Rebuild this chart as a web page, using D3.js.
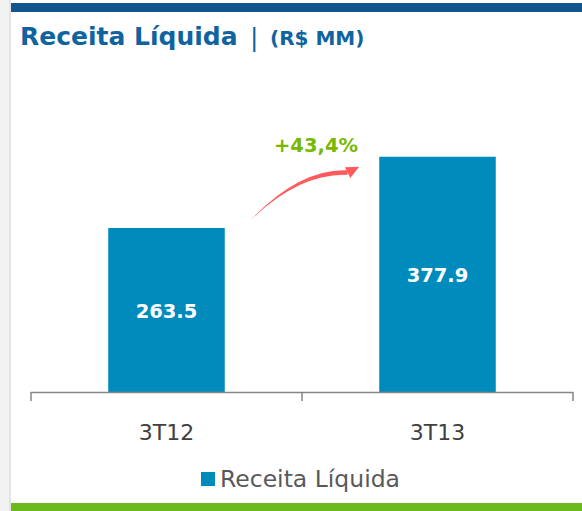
<!DOCTYPE html>
<html>
<head>
<meta charset="utf-8">
<script src="https://cdn.jsdelivr.net/npm/d3@7"></script>
<style>
  html, body { margin: 0; padding: 0; background: #ffffff; }
  svg { display: block; }
</style>
</head>
<body>
<div id="chart"></div>
<script>
(function() {
  // values
  var categories = ["3T12", "3T13"];
  var values = [263.5, 377.9];
  var seriesName = "Receita Líquida";
  var growthLabel = "+43,4%";
  var titleMain = "Receita Líquida";
  var titleUnit = "(R$ MM)";

  var W = 582, H = 511;
  var font = "'DejaVu Sans', sans-serif";

  var svg = d3.select("#chart")
    .append("svg")
      .attr("width", W)
      .attr("height", H);

  // page frame: grey side strip, blue top band, green bottom band
  svg.append("rect").attr("x", 0).attr("y", 0).attr("width", W).attr("height", H).attr("fill", "#ffffff");
  svg.append("rect").attr("x", 0).attr("y", 0).attr("width", 11).attr("height", H).attr("fill", "#f2f2f2");
  svg.append("rect").attr("x", 9).attr("y", 0).attr("width", 2).attr("height", H).attr("fill", "#e4e4e4");
  svg.append("rect").attr("x", 11).attr("y", 3).attr("width", W - 11).attr("height", 9).attr("fill", "#13568f");
  svg.append("rect").attr("x", 11).attr("y", 503).attr("width", W - 11).attr("height", 8).attr("fill", "#6cb91b");

  // title
  svg.append("text")
    .attr("x", 20).attr("y", 45)
    .attr("font-family", font).attr("font-weight", "bold").attr("font-size", 25)
    .attr("fill", "#0f64a0")
    .text(titleMain);
  svg.append("text")
    .attr("x", 250).attr("y", 46)
    .attr("font-family", font).attr("font-size", 25)
    .attr("fill", "#0f64a0")
    .text("|");
  svg.append("text")
    .attr("x", 270).attr("y", 45)
    .attr("font-family", font).attr("font-weight", "bold").attr("font-size", 20)
    .attr("fill", "#0f64a0")
    .text(titleUnit);

  // plot area
  var left = 31, right = 573, baseline = 392;
  var x = d3.scaleBand()
    .domain(categories)
    .range([left, right])
    .paddingInner(0.57)
    .paddingOuter(0.285);

  var y = d3.scaleLinear()
    .domain([0, 400])
    .range([baseline, baseline - 249]);

  // bars
  svg.selectAll("rect.bar")
    .data(values)
    .enter()
    .append("rect")
      .attr("class", "bar")
      .attr("x", function(d, i) { return x(categories[i]); })
      .attr("y", function(d) { return y(d); })
      .attr("width", x.bandwidth())
      .attr("height", function(d) { return y(0) - y(d); })
      .attr("fill", "#008bbd");

  // value labels inside bars
  svg.selectAll("text.val")
    .data(values)
    .enter()
    .append("text")
      .attr("class", "val")
      .attr("x", function(d, i) { return x(categories[i]) + x.bandwidth() / 2; })
      .attr("y", function(d) { return (y(d) + y(0)) / 2 + 1; })
      .attr("dy", "0.35em")
      .attr("text-anchor", "middle")
      .attr("font-family", font)
      .attr("font-weight", "bold")
      .attr("font-size", 19.5)
      .attr("fill", "#ffffff")
      .text(function(d) { return d.toFixed(1); });

  // category axis, ticks at the band edges
  var axisG = svg.append("g");
  axisG.append("line")
    .attr("x1", left).attr("x2", right)
    .attr("y1", baseline + 0.5).attr("y2", baseline + 0.5)
    .attr("stroke", "#868686").attr("stroke-width", 1.5);

  var edges = [left].concat(categories.map(function(c, i) { return left + x.step() * (i + 1); }));
  edges[edges.length - 1] = right;
  axisG.selectAll("line.tick")
    .data(edges)
    .enter()
    .append("line")
      .attr("class", "tick")
      .attr("x1", function(d) { return d; })
      .attr("x2", function(d) { return d; })
      .attr("y1", baseline)
      .attr("y2", baseline + 9)
      .attr("stroke", "#868686").attr("stroke-width", 1.5);

  axisG.selectAll("text.cat")
    .data(categories)
    .enter()
    .append("text")
      .attr("class", "cat")
      .attr("x", function(d) { return x(d) + x.bandwidth() / 2; })
      .attr("y", 440)
      .attr("text-anchor", "middle")
      .attr("font-family", font)
      .attr("font-size", 22)
      .attr("fill", "#404040")
      .text(function(d) { return d; });

  // growth arrow between the two bars
  var x0 = x(categories[0]) + x.bandwidth() + 25, y0 = y(values[0]) - 7;
  var x1 = x(categories[1]) - 20, y1 = y(values[1]) + 10;
  var cx = x0 + (x1 - x0) * 0.45, cy = y1 + 4;
  var headLen = 13;
  // tapered body drawn as a filled shape
  var bodyEnd = [x1 - headLen * 0.9, y1 + headLen * 0.45];
  var w = 2.3;
  var body = "M" + x0 + "," + y0 +
    " Q" + cx + "," + (cy - w) + " " + bodyEnd[0] + "," + (bodyEnd[1] - w) +
    " L" + bodyEnd[0] + "," + (bodyEnd[1] + w) +
    " Q" + cx + "," + (cy + w) + " " + x0 + "," + y0 + "Z";
  svg.append("path").attr("d", body).attr("fill", "#ff5a5a");
  var ang = Math.atan2(y1 - bodyEnd[1], x1 - bodyEnd[0]);
  var hw = 6;
  var px = -Math.sin(ang), py = Math.cos(ang);
  var bx = x1 - Math.cos(ang) * headLen, by = y1 - Math.sin(ang) * headLen;
  svg.append("path")
    .attr("d", "M" + x1 + "," + y1 +
      " L" + (bx + px * hw) + "," + (by + py * hw) +
      " L" + (bx - px * hw) + "," + (by - py * hw) + "Z")
    .attr("fill", "#ff5a5a");

  svg.append("text")
    .attr("x", 316)
    .attr("y", 152)
    .attr("text-anchor", "middle")
    .attr("font-family", font)
    .attr("font-weight", "bold")
    .attr("font-size", 19.5)
    .attr("fill", "#76b900")
    .text(growthLabel);

  // legend
  var lg = svg.append("g").attr("transform", "translate(201,472)");
  lg.append("rect").attr("width", 14).attr("height", 14).attr("fill", "#008bbd");
  lg.append("text")
    .attr("x", 19)
    .attr("y", 7)
    .attr("dy", "0.35em")
    .attr("font-family", font)
    .attr("font-size", 23.5)
    .attr("fill", "#595959")
    .text(seriesName);
})();
</script>
</body>
</html>
